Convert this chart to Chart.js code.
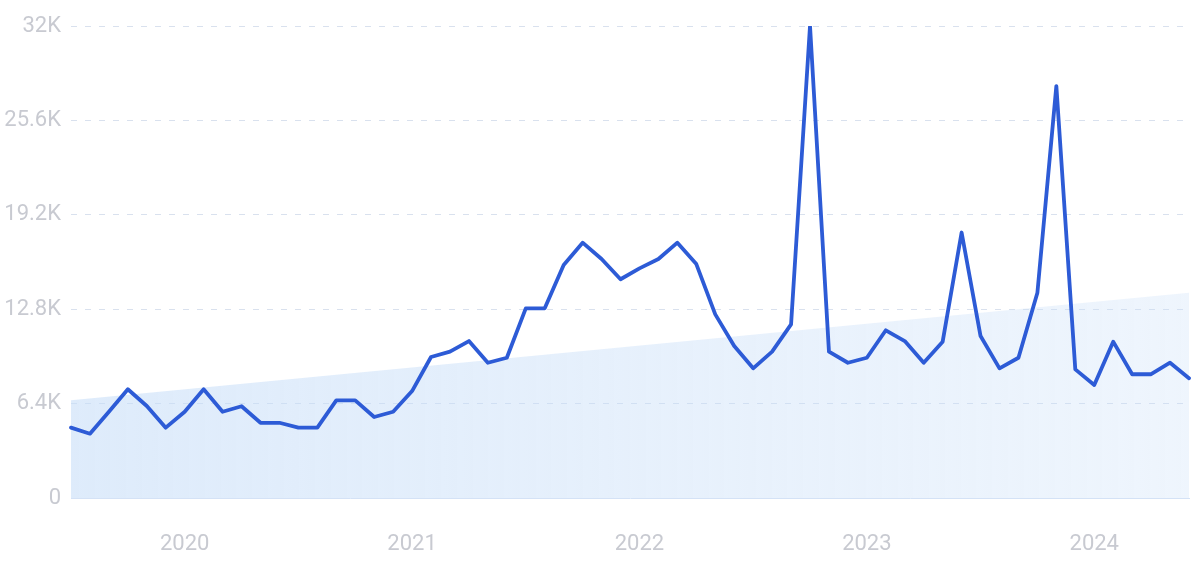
<!DOCTYPE html>
<html>
<head>
<meta charset="utf-8">
<script src="https://cdn.jsdelivr.net/npm/chart.js@4"></script>
<style>
  html, body { margin: 0; padding: 0; background: #ffffff; }
  #wrap { width: 1200px; height: 562px; position: relative; }
</style>
</head>
<body>
<div id="wrap"><canvas id="c" width="1200" height="562"></canvas></div>
<script>
// Categories: monthly, Jul 2019 .. Jun 2024
const months = [
  '2019-07','2019-08','2019-09','2019-10','2019-11','2019-12',
  '2020-01','2020-02','2020-03','2020-04','2020-05','2020-06','2020-07','2020-08','2020-09','2020-10','2020-11','2020-12',
  '2021-01','2021-02','2021-03','2021-04','2021-05','2021-06','2021-07','2021-08','2021-09','2021-10','2021-11','2021-12',
  '2022-01','2022-02','2022-03','2022-04','2022-05','2022-06','2022-07','2022-08','2022-09','2022-10','2022-11','2022-12',
  '2023-01','2023-02','2023-03','2023-04','2023-05','2023-06','2023-07','2023-08','2023-09','2023-10','2023-11','2023-12',
  '2024-01','2024-02','2024-03','2024-04','2024-05','2024-06'
];
// Series values (searches per month)
const volume = [
  4770, 4360, 5850, 7370, 6240, 4770,
  5850, 7370, 5850, 6220, 5100, 5100, 4770, 4770, 6620, 6620, 5490, 5850,
  7250, 9560, 9920, 10640, 9170, 9510, 12860, 12860, 15800, 17310, 16200, 14830,
  15570, 16200, 17310, 15860, 12450, 10300, 8790, 9920, 11770, 32000, 9920, 9170,
  9510, 11370, 10640, 9170, 10600, 18000, 10980, 8790, 9510, 13920, 27930, 8720,
  7660, 10600, 8390, 8390, 9170, 8120
];
// Trend band: value at first and last month
const trendEnds = [6620, 13920];
// Tick labels
const yTickValues = [0, 6400, 12800, 19200, 25600, 32000];
const yTickLabels = ['0', '6.4K', '12.8K', '19.2K', '25.6K', '32K'];
const xYearLabels = ['2020', '2021', '2022', '2023', '2024'];

const trendData = months.map((m, i) => i === 0 ? trendEnds[0] : (i === months.length - 1 ? trendEnds[1] : null));

function trendFill(context) {
  const chart = context.chart;
  const area = chart.chartArea;
  if (!area) return 'rgba(200,222,248,0.45)';
  const g = chart.ctx.createLinearGradient(area.left, 0, area.right, 0);
  g.addColorStop(0, 'rgba(198,221,248,0.58)');
  g.addColorStop(1, 'rgba(200,222,248,0.30)');
  return g;
}

const tickFont = { family: 'Roboto', size: 22 };
const tickColor = '#c8cad1';

new Chart(document.getElementById('c'), {
  type: 'line',
  data: {
    labels: months,
    datasets: [
      {
        label: 'Volume',
        data: volume,
        borderColor: '#2d5bd6',
        borderWidth: 3.8,
        pointRadius: 0,
        tension: 0,
        fill: false,
        order: 1,
        borderJoinStyle: 'round',
        borderCapStyle: 'round'
      },
      {
        label: 'Trend',
        data: trendData,
        spanGaps: true,
        borderWidth: 0,
        borderColor: 'rgba(0,0,0,0)',
        pointRadius: 0,
        fill: 'origin',
        backgroundColor: trendFill,
        order: 2
      }
    ]
  },
  options: {
    responsive: false,
    animation: false,
    devicePixelRatio: 1,
    layout: { padding: { top: 26, right: 11, left: 0, bottom: 0 } },
    plugins: { legend: { display: false }, tooltip: { enabled: false } },
    scales: {
      x: {
        type: 'category',
        offset: false,
        grid: { display: false, drawTicks: false },
        border: { display: true, color: '#d4e2f6', width: 1 },
        ticks: {
          autoSkip: false,
          maxRotation: 0,
          padding: 33,
          font: tickFont,
          color: tickColor,
          callback: function(value, index) {
            const m = months[index];
            if (m.slice(5) === '01') {
              const y = m.slice(0, 4);
              return xYearLabels.includes(y) ? y : null;
            }
            return null;
          }
        },
        afterFit: function(scale) { scale.height = 64; }
      },
      y: {
        min: 0,
        max: 32000,
        afterBuildTicks: function(scale) {
          scale.ticks = yTickValues.map(v => ({ value: v }));
        },
        grid: {
          drawTicks: false,
          color: function(ctx) { return ctx.tick && ctx.tick.value === 0 ? 'rgba(0,0,0,0)' : '#d9e1ee'; },
          lineWidth: 1
        },
        border: { display: false, dash: [6, 8] },
        ticks: {
          padding: 10,
          font: tickFont,
          color: tickColor,
          callback: function(value) {
            const i = yTickValues.indexOf(value);
            return i >= 0 ? yTickLabels[i] : '';
          }
        },
        afterFit: function(scale) { scale.width = 71; }
      }
    }
  }
});
</script>
</body>
</html>
